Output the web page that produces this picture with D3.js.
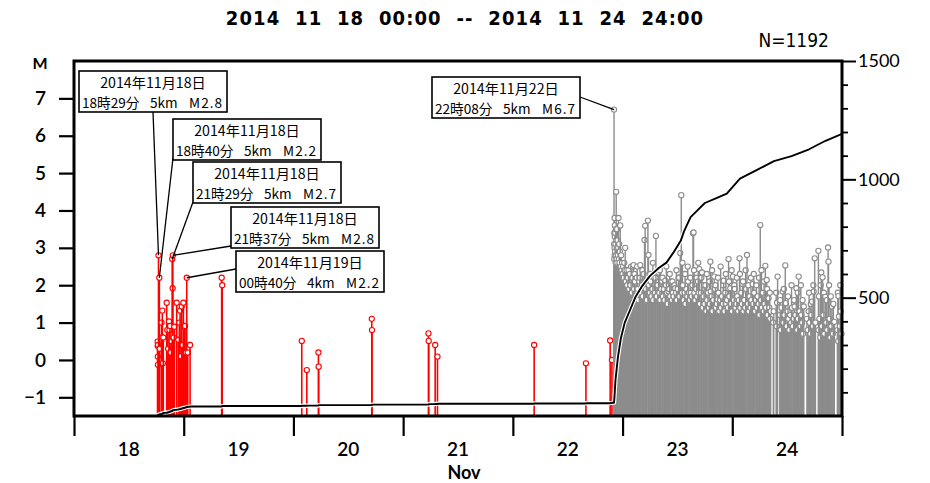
<!DOCTYPE html>
<html>
<head>
<meta charset="utf-8">
<script src="https://cdn.jsdelivr.net/npm/d3@7"></script>
<style>
  html, body { margin: 0; padding: 0; background: #fff; }
  svg { display: block; }
</style>
</head>
<body>
<svg id="chart" width="930" height="483"></svg>
<script>
// ---- axis ticks and labels ----
const dayTicks = [18, 19, 20, 21, 22, 23, 24, 25];
const dayLabels = ["18", "19", "20", "21", "22", "23", "24"];
const magTicks = [-1, 0, 1, 2, 3, 4, 5, 6, 7];
const countTicks = [500, 1000, 1500];
const countMinorTicks = [100, 200, 300, 400, 600, 700, 800, 900, 1100, 1200, 1300, 1400];
const titleText = "2014  11  18  00:00  --  2014  11  24  24:00";
const totalLabel = "N=1192";
const monthLabel = "Nov";
const magLabel = "M";

// ---- events before the M6.7 shock: [day of November, magnitude] ----
const foreEvents = [
  [18.762, 0.49], [18.763, 0.37], [18.764, 0.09], [18.765, -0.13], [18.766, 0.40],
  [18.7701, 2.8], [18.7778, 2.2], [18.781, 0.30], [18.798, 1.00], [18.805, 1.32],
  [18.806, 0.61], [18.810, -0.09], [18.814, 0.60], [18.845, 1.53], [18.850, 0.80],
  [18.858, 0.30], [18.866, 1.03], [18.870, 0.80], [18.875, 0.91], [18.882, 0.20],
  [18.890, 0.50], [18.8951, 2.7], [18.899, 1.92], [18.9007, 2.8], [18.908, 0.60],
  [18.915, 0.89], [18.936, 1.53], [18.951, 0.54], [18.960, 1.00], [18.967, 1.32],
  [18.975, 0.10], [18.982, 1.43], [18.990, 0.40], [18.997, 1.53], [19.006, 0.89],
  [19.012, 0.91], [19.020, 0.20], [19.0278, 2.2], [19.037, 0.20], [19.058, 0.40],
  [19.346, 2.2], [19.351, 2.0], [20.076, 0.51], [20.122, -0.27], [20.228, 0.20],
  [20.230, -0.18], [20.714, 1.10], [20.716, 0.80], [21.231, 0.71], [21.233, 0.51],
  [21.292, 0.40], [21.313, 0.09], [22.194, 0.40], [22.666, -0.09], [22.887, 0.52],
  [22.903, 0.00]
];

// ---- the M6.7 shock and the aftershock sequence: [day of November, magnitude] ----
const afterEvents = [
  [22.9222, 6.7],
  [22.923, 3.1], [22.924, 2.7], [22.925, 3.4], [22.926, 3.0], [22.927, 3.8], [22.928, 2.8],
  [22.929, 3.3], [22.930, 3.6], [22.932, 2.9], [22.933, 3.4], [22.935, 3.1], [22.937, 2.6],
  [22.939, 3.5], [22.941, 2.8], [22.942, 4.5], [22.944, 3.2], [22.946, 2.7], [22.948, 3.0],
  [22.950, 3.5], [22.952, 2.6], [22.955, 3.2], [22.957, 2.8], [22.960, 3.0], [22.963, 3.8],
  [22.966, 2.7], [22.969, 3.1], [22.972, 2.6], [22.975, 2.9], [22.979, 3.6], [22.983, 2.5],
  [22.987, 2.8], [22.991, 2.4],
  [22.995, 2.6], [23.000, 2.3], [23.005, 2.5], [23.010, 2.2], [23.015, 2.6], [23.020, 2.4],
  [23.024, 3.0], [23.030, 2.1], [23.036, 2.4], [23.042, 2.0], [23.048, 2.2], [23.054, 2.4],
  [23.060, 1.9], [23.066, 2.3], [23.072, 2.0], [23.078, 2.5], [23.084, 1.8], [23.090, 2.2],
  [23.096, 2.5], [23.100, 2.54],
  [23.105, 1.9], [23.109, 2.3], [23.113, 2.1], [23.121, 1.7], [23.129, 2.2], [23.133, 2.5],
  [23.137, 1.9], [23.145, 1.6], [23.153, 2.1], [23.157, 2.2], [23.161, 2.54], [23.169, 1.8],
  [23.177, 2.0], [23.181, 2.4], [23.185, 1.7], [23.193, 2.3], [23.200, 3.21], [23.206, 3.59],
  [23.213, 1.9], [23.217, 2.1], [23.221, 1.6], [23.231, 3.73], [23.236, 2.81], [23.240, 2.0],
  [23.248, 1.8], [23.252, 2.3], [23.256, 2.1], [23.264, 1.7], [23.272, 1.9], [23.276, 2.6],
  [23.280, 1.6], [23.288, 2.2], [23.296, 1.8], [23.300, 2.2], [23.304, 3.32], [23.312, 1.7],
  [23.320, 2.0], [23.328, 2.34], [23.336, 1.8], [23.340, 2.4], [23.344, 1.6], [23.352, 1.9],
  [23.360, 2.1], [23.364, 2.2], [23.368, 1.7], [23.376, 1.9], [23.383, 1.6], [23.389, 2.12],
  [23.395, 2.0], [23.399, 2.5], [23.403, 1.8], [23.411, 1.5], [23.419, 1.83], [23.426, 1.9],
  [23.430, 2.3], [23.434, 1.7], [23.442, 2.1], [23.450, 1.6], [23.454, 2.1], [23.458, 1.8],
  [23.466, 1.7], [23.473, 2.0], [23.480, 1.92], [23.487, 1.8], [23.491, 2.4], [23.495, 1.6],
  [23.503, 1.9], [23.511, 2.2], [23.515, 2.2], [23.519, 1.7], [23.526, 2.86], [23.535, 4.41],
  [23.542, 1.8], [23.546, 2.6], [23.550, 2.0], [23.558, 1.6], [23.566, 1.8], [23.570, 2.3],
  [23.574, 1.5], [23.582, 1.9], [23.590, 1.7], [23.594, 2.5], [23.598, 2.1], [23.606, 1.8],
  [23.614, 1.6], [23.618, 2.2], [23.622, 1.8], [23.630, 1.7], [23.636, 2.0], [23.642, 3.39],
  [23.647, 3.41], [23.651, 2.4], [23.655, 1.8], [23.663, 1.6], [23.671, 1.9], [23.675, 2.2],
  [23.679, 1.7], [23.687, 2.1], [23.690, 2.6], [23.694, 1.8], [23.699, 2.43],
  [23.706, 1.5], [23.714, 1.8], [23.718, 2.2], [23.724, 2.34], [23.731, 1.4], [23.739, 1.7],
  [23.743, 2.0], [23.747, 1.5], [23.755, 2.0], [23.763, 1.3], [23.767, 2.3], [23.771, 1.6],
  [23.779, 1.8], [23.787, 1.4], [23.791, 2.1], [23.795, 1.5], [23.800, 2.63], [23.804, 1.83],
  [23.812, 1.7], [23.816, 2.4], [23.820, 1.3], [23.828, 1.6], [23.836, 2.23], [23.843, 1.9],
  [23.847, 2.0], [23.851, 1.4], [23.859, 1.5], [23.866, 1.62], [23.870, 2.2], [23.874, 1.8],
  [23.882, 1.3], [23.890, 1.6], [23.894, 2.5], [23.898, 1.4], [23.906, 1.7], [23.914, 1.5],
  [23.918, 2.0], [23.921, 2.12], [23.929, 1.3], [23.937, 1.8], [23.941, 2.3], [23.945, 1.5],
  [23.953, 1.6], [23.960, 1.4], [23.966, 2.70], [23.970, 2.1], [23.974, 1.7], [23.982, 1.92],
  [23.990, 1.5], [23.994, 2.4], [23.998, 1.3], [24.006, 2.23], [24.014, 1.6], [24.018, 2.0],
  [24.022, 1.9], [24.030, 1.4], [24.038, 1.5], [24.042, 2.2], [24.046, 1.7], [24.054, 1.3],
  [24.060, 1.6], [24.066, 2.72], [24.070, 2.3], [24.074, 1.4], [24.082, 1.8], [24.088, 1.5],
  [24.094, 2.03], [24.098, 2.1], [24.102, 1.3], [24.110, 1.6], [24.118, 1.4], [24.122, 2.4],
  [24.126, 1.9], [24.134, 2.81], [24.142, 1.5], [24.146, 2.0], [24.150, 1.3], [24.158, 1.7],
  [24.166, 1.4], [24.170, 2.2], [24.174, 1.6], [24.185, 2.03], [24.192, 1.5], [24.196, 2.3],
  [24.200, 1.8], [24.208, 1.3], [24.216, 1.6], [24.220, 2.0], [24.224, 1.4], [24.232, 1.7],
  [24.240, 1.5], [24.244, 2.2], [24.248, 1.2], [24.255, 3.61], [24.262, 1.6], [24.266, 2.4],
  [24.270, 1.4], [24.278, 1.8], [24.286, 1.3], [24.290, 2.1], [24.294, 1.5], [24.301, 2.52],
  [24.308, 1.4], [24.314, 2.14], [24.318, 1.9], [24.322, 1.2], [24.331, 1.65], [24.338, 1.4],
  [24.342, 1.8], [24.346, 1.1], [24.350, 1.3],
  [24.374, 1.0], [24.378, 1.3], [24.400, 1.8], [24.404, 0.9], [24.408, 1.53], [24.413, 2.23],
  [24.433, 1.2], [24.437, 1.6], [24.441, 0.8], [24.449, 1.4], [24.459, 1.83], [24.467, 1.0],
  [24.471, 1.9], [24.475, 1.2], [24.483, 2.53], [24.488, 1.52], [24.496, 0.9], [24.504, 1.3],
  [24.508, 1.7], [24.512, 1.1], [24.520, 0.8], [24.528, 1.2], [24.536, 1.0], [24.540, 2.0],
  [24.544, 1.4], [24.552, 0.9], [24.560, 1.1], [24.564, 1.6], [24.568, 1.43], [24.576, 1.2],
  [24.584, 1.92], [24.592, 0.8], [24.596, 1.8], [24.598, 1.1], [24.605, 2.23], [24.613, 1.3],
  [24.621, 0.9], [24.625, 2.0], [24.629, 1.2], [24.637, 1.0], [24.641, 1.6], [24.645, 0.7],
  [24.652, 1.43], [24.680, 1.1], [24.688, 0.8], [24.696, 1.3], [24.700, 1.8], [24.704, 1.0],
  [24.712, 0.7], [24.716, 1.5], [24.720, 1.2], [24.727, 1.56], [24.735, 0.9], [24.739, 2.0],
  [24.742, 1.83], [24.751, 2.72], [24.758, 1.0], [24.785, 2.92], [24.786, 0.8], [24.790, 1.7],
  [24.794, 1.1], [24.802, 0.6], [24.806, 2.0], [24.811, 2.34], [24.816, 0.9], [24.823, 2.21],
  [24.831, 1.2], [24.835, 1.8], [24.839, 0.7], [24.848, 1.69], [24.857, 1.0], [24.861, 1.6],
  [24.865, 0.8], [24.873, 3.01], [24.877, 2.63], [24.882, 2.0], [24.886, 1.1], [24.894, 0.6],
  [24.898, 1.7], [24.902, 0.9], [24.909, 1.43], [24.917, 0.7], [24.921, 1.5], [24.924, 1.0],
  [24.930, 1.02], [24.958, 0.8], [24.962, 1.8], [24.965, 0.5], [24.967, 1.71], [24.972, 1.16],
  [24.980, 0.9], [24.984, 2.0], [24.988, 1.3], [24.995, 0.7]
];

// ---- cumulative number of events after the M6.7 shock: [day, count] ----
const afterCumulative = [
  [22.9222, 56], [22.926, 80], [22.935, 150], [22.958, 250], [22.985, 330], [23.02, 395],
  [23.07, 450], [23.12, 505], [23.18, 550], [23.25, 592], [23.33, 625], [23.40, 648],
  [23.47, 695], [23.53, 740], [23.56, 780], [23.62, 840], [23.68, 868], [23.75, 900],
  [23.85, 920], [23.95, 940], [24.07, 1003], [24.23, 1041], [24.38, 1077], [24.54, 1098],
  [24.70, 1127], [24.85, 1163], [25.0, 1192]
];

// ---- labelled events ----
const notes = [
  { day: 18.7701, mag: 2.8, date: "2014年11月18日", time: "18時29分", depth: "5km", m: "M2.8" },
  { day: 18.7778, mag: 2.2, date: "2014年11月18日", time: "18時40分", depth: "5km", m: "M2.2" },
  { day: 18.8951, mag: 2.7, date: "2014年11月18日", time: "21時29分", depth: "5km", m: "M2.7" },
  { day: 18.9007, mag: 2.8, date: "2014年11月18日", time: "21時37分", depth: "5km", m: "M2.8" },
  { day: 19.0278, mag: 2.2, date: "2014年11月19日", time: "00時40分", depth: "4km", m: "M2.2" },
  { day: 22.9222, mag: 6.7, date: "2014年11月22日", time: "22時08分", depth: "5km", m: "M6.7" }
];
// box placement (left, top) and where the leader leaves the box (dx, dy from box origin)
const noteBoxes = [
  { x: 79,  y: 71,  ax: 74,  ay: 41 },
  { x: 173, y: 119, ax: 0,   ay: 39 },
  { x: 193, y: 162, ax: 0,   ay: 40 },
  { x: 231, y: 207, ax: 0,   ay: 39 },
  { x: 236, y: 251, ax: 0,   ay: 18 },
  { x: 432, y: 77,  ax: 148, ay: 20 }
];

// ---- layout ----
const svg = d3.select("#chart");
const P = { left: 74, right: 842, top: 61, bottom: 416 };
const x = d3.scaleLinear().domain([18, 25]).range([P.left, P.right]);
const yM = d3.scaleLinear().domain([-1.5, 8]).range([P.bottom, P.top]);
const yN = d3.scaleLinear().domain([0, 1500]).range([P.bottom, P.top]);

const numFont = "Lato, 'DejaVu Sans', sans-serif";
const condFont = "'DejaVu Sans Condensed', 'DejaVu Sans', sans-serif";
const cjkFont = "'Noto Sans CJK JP', 'Noto Sans CJK SC', sans-serif";

// title and count
svg.append("text")
  .attr("x", 465).attr("y", 25)
  .attr("text-anchor", "middle")
  .attr("font-family", condFont).attr("font-size", 20).attr("font-weight", "bold")
  .attr("letter-spacing", 1.1)
  .style("white-space", "pre")
  .text(titleText);
svg.append("text")
  .attr("x", 829).attr("y", 47)
  .attr("text-anchor", "end")
  .attr("font-family", condFont).attr("font-size", 19)
  .text(totalLabel);

// magnitude stems, each event drawn in time order (stem then marker)
function drawStems(list, color, width) {
  const g = svg.append("g");
  const ev = g.selectAll("g").data(list).join("g");
  ev.append("line")
    .attr("x1", d => x(d[0])).attr("x2", d => x(d[0]))
    .attr("y1", yM(-1.5)).attr("y2", d => yM(d[1]))
    .attr("stroke", color).attr("stroke-width", width);
  ev.append("circle")
    .attr("cx", d => x(d[0])).attr("cy", d => yM(d[1]))
    .attr("r", 2.6)
    .attr("fill", "#fff").attr("stroke", color).attr("stroke-width", 1.1);
}
drawStems(foreEvents.slice().sort((a, b) => a[0] - b[0]), "#ff0000", 1.6);
drawStems(afterEvents.slice().sort((a, b) => a[0] - b[0]), "#8c8c8c", 1.4);

// cumulative count line
const foreSorted = foreEvents.slice().sort((a, b) => a[0] - b[0]);
const cumPts = [[18, 0]];
foreSorted.forEach((d, i) => { cumPts.push([d[0], i]); cumPts.push([d[0], i + 1]); });
afterCumulative.forEach(d => cumPts.push(d));
const cumLine = d3.line().x(d => x(d[0])).y(d => yN(d[1]));
svg.append("path").attr("d", cumLine(cumPts))
  .attr("fill", "none").attr("stroke", "#fff").attr("stroke-width", 4.2).attr("stroke-linejoin", "round");
svg.append("path").attr("d", cumLine(cumPts))
  .attr("fill", "none").attr("stroke", "#000").attr("stroke-width", 1.9).attr("stroke-linejoin", "round");

// frame
svg.append("rect")
  .attr("x", P.left).attr("y", P.top)
  .attr("width", P.right - P.left).attr("height", P.bottom - P.top)
  .attr("fill", "none").attr("stroke", "#000").attr("stroke-width", 3);

// left magnitude axis
const axL = svg.append("g").attr("transform", `translate(${P.left},0)`)
  .call(d3.axisLeft(yM).tickValues(magTicks).tickSize(15).tickPadding(13).tickFormat(d3.format("d")));
axL.select(".domain").remove();
axL.selectAll("line").attr("stroke-width", 2.2);
axL.selectAll("text").attr("font-family", numFont).attr("font-size", 19).attr("font-weight", 600).attr("fill", "#000");
svg.append("text").attr("x", 40).attr("y", 69).attr("text-anchor", "middle")
  .attr("font-family", numFont).attr("font-size", 16).attr("font-weight", "bold").text(magLabel);

// right count axis
const axR = svg.append("g").attr("transform", `translate(${P.right},0)`)
  .call(d3.axisRight(yN).tickValues(countTicks).tickSize(14).tickPadding(2).tickFormat(d3.format("d")));
axR.select(".domain").remove();
axR.selectAll("line").attr("stroke-width", 2);
axR.selectAll("text").attr("font-family", numFont).attr("font-size", 18).attr("fill", "#000");
const axR2 = svg.append("g").attr("transform", `translate(${P.right},0)`)
  .call(d3.axisRight(yN).tickValues(countMinorTicks).tickSize(6).tickFormat(""));
axR2.select(".domain").remove();
axR2.selectAll("line").attr("stroke-width", 1.8);

// bottom day axis
const axB = svg.append("g").attr("transform", `translate(0,${P.bottom})`)
  .call(d3.axisBottom(x).tickValues(dayTicks).tickSize(20).tickFormat(""));
axB.select(".domain").remove();
axB.selectAll("line").attr("stroke-width", 2.2);
svg.append("g").selectAll("text").data(dayLabels).join("text")
  .attr("x", d => x(+d + 0.5)).attr("y", 456)
  .attr("text-anchor", "middle")
  .attr("font-family", numFont).attr("font-size", 19).attr("font-weight", 600)
  .text(d => d);
svg.append("text").attr("x", 464).attr("y", 479).attr("text-anchor", "middle")
  .attr("font-family", numFont).attr("font-size", 18).attr("font-weight", "bold").text(monthLabel);

// callout boxes: date line centred, details line spread across the box
const BW = 148, BH = 41;
notes.forEach((n, i) => {
  const b = noteBoxes[i];
  svg.append("line")
    .attr("x1", b.x + b.ax).attr("y1", b.y + b.ay)
    .attr("x2", x(n.day)).attr("y2", yM(n.mag))
    .attr("stroke", "#000").attr("stroke-width", 1.3);
  svg.append("rect")
    .attr("x", b.x).attr("y", b.y).attr("width", BW).attr("height", BH)
    .attr("fill", "#fff").attr("stroke", "#000").attr("stroke-width", 1.6);
  svg.append("text").attr("x", b.x + BW / 2).attr("y", b.y + 16.5)
    .attr("text-anchor", "middle")
    .attr("font-family", cjkFont).attr("font-size", 14.2).text(n.date);
  const t = svg.append("text").attr("font-family", cjkFont).attr("font-size", 13.6);
  t.append("tspan").attr("x", b.x + 3).attr("y", b.y + 36.5)
    .attr("text-anchor", "start").text(n.time);
  t.append("tspan").attr("x", b.x + 71).attr("y", b.y + 36.5)
    .attr("text-anchor", "start").text(n.depth);
  t.append("tspan").attr("x", b.x + BW - 4).attr("y", b.y + 36.5)
    .attr("text-anchor", "end").attr("letter-spacing", 1).text(n.m);
});
</script>
</body>
</html>
